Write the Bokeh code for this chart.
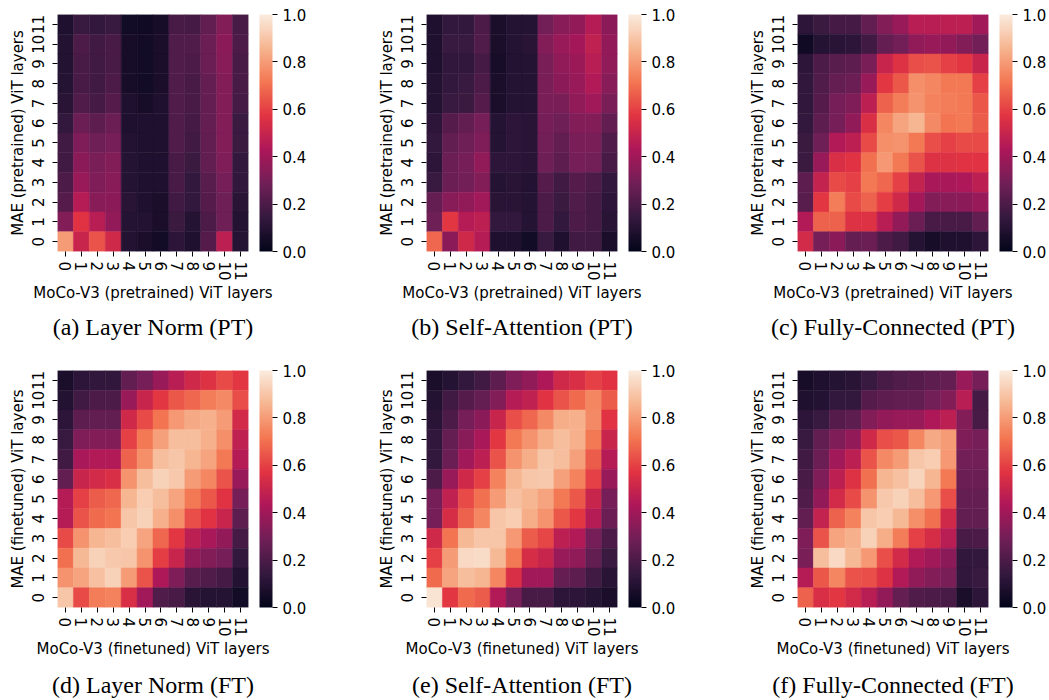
import numpy as np
from bokeh.plotting import figure
from bokeh.models import (ColumnDataSource, ColorBar, LinearColorMapper,
                          FixedTicker, PrintfTickFormatter)
from bokeh.layouts import column, row
from bokeh.transform import transform
from bokeh.embed import file_html
from bokeh.resources import INLINE

layers = [str(i) for i in range(12)]
cbar_ticks = [0.0, 0.2, 0.4, 0.6, 0.8, 1.0]

# Each matrix: rows listed from MAE layer 11 (top) down to layer 0 (bottom),
# columns = MoCo-V3 layers 0..11
ln_pt = [
    [0.08, 0.15, 0.14, 0.15, 0.05, 0.04, 0.06, 0.19, 0.18, 0.25, 0.33, 0.19],
    [0.09, 0.20, 0.17, 0.19, 0.06, 0.05, 0.07, 0.21, 0.21, 0.27, 0.35, 0.20],
    [0.09, 0.19, 0.17, 0.19, 0.06, 0.05, 0.07, 0.21, 0.20, 0.27, 0.34, 0.19],
    [0.10, 0.19, 0.17, 0.20, 0.06, 0.05, 0.07, 0.21, 0.19, 0.26, 0.33, 0.19],
    [0.11, 0.21, 0.18, 0.22, 0.08, 0.06, 0.08, 0.21, 0.19, 0.26, 0.33, 0.18],
    [0.14, 0.27, 0.24, 0.27, 0.08, 0.08, 0.08, 0.21, 0.18, 0.26, 0.33, 0.16],
    [0.17, 0.32, 0.28, 0.30, 0.09, 0.08, 0.08, 0.21, 0.17, 0.25, 0.33, 0.16],
    [0.17, 0.35, 0.31, 0.33, 0.10, 0.08, 0.08, 0.19, 0.16, 0.25, 0.32, 0.14],
    [0.20, 0.38, 0.32, 0.34, 0.10, 0.08, 0.08, 0.19, 0.14, 0.23, 0.30, 0.13],
    [0.22, 0.45, 0.34, 0.35, 0.11, 0.08, 0.07, 0.17, 0.14, 0.22, 0.28, 0.11],
    [0.33, 0.57, 0.46, 0.37, 0.10, 0.09, 0.07, 0.16, 0.10, 0.20, 0.28, 0.09],
    [0.80, 0.50, 0.64, 0.52, 0.09, 0.07, 0.05, 0.12, 0.08, 0.22, 0.47, 0.10],
]
sa_pt = [
    [0.08, 0.14, 0.14, 0.20, 0.07, 0.10, 0.10, 0.29, 0.34, 0.37, 0.45, 0.35],
    [0.08, 0.15, 0.15, 0.21, 0.07, 0.10, 0.11, 0.33, 0.38, 0.41, 0.48, 0.37],
    [0.08, 0.13, 0.13, 0.18, 0.06, 0.09, 0.10, 0.31, 0.36, 0.39, 0.46, 0.36],
    [0.09, 0.14, 0.15, 0.20, 0.07, 0.10, 0.10, 0.31, 0.35, 0.38, 0.44, 0.34],
    [0.09, 0.15, 0.16, 0.22, 0.07, 0.10, 0.10, 0.31, 0.31, 0.36, 0.40, 0.31],
    [0.12, 0.22, 0.25, 0.30, 0.10, 0.12, 0.11, 0.30, 0.28, 0.33, 0.33, 0.25],
    [0.14, 0.25, 0.28, 0.32, 0.10, 0.12, 0.11, 0.29, 0.25, 0.31, 0.31, 0.21],
    [0.12, 0.27, 0.30, 0.36, 0.12, 0.12, 0.11, 0.28, 0.24, 0.30, 0.29, 0.19],
    [0.15, 0.27, 0.29, 0.33, 0.10, 0.11, 0.09, 0.22, 0.17, 0.22, 0.20, 0.14],
    [0.26, 0.34, 0.36, 0.40, 0.11, 0.11, 0.10, 0.20, 0.16, 0.21, 0.18, 0.12],
    [0.28, 0.58, 0.45, 0.47, 0.14, 0.14, 0.10, 0.20, 0.14, 0.20, 0.18, 0.11],
    [0.68, 0.35, 0.52, 0.45, 0.08, 0.08, 0.05, 0.15, 0.08, 0.17, 0.17, 0.07],
]
fc_pt = [
    [0.12, 0.16, 0.18, 0.18, 0.25, 0.33, 0.38, 0.46, 0.46, 0.47, 0.47, 0.40],
    [0.04, 0.10, 0.11, 0.12, 0.17, 0.26, 0.29, 0.36, 0.38, 0.37, 0.33, 0.29],
    [0.12, 0.20, 0.23, 0.24, 0.31, 0.50, 0.56, 0.63, 0.64, 0.60, 0.58, 0.50],
    [0.13, 0.21, 0.26, 0.27, 0.38, 0.58, 0.65, 0.77, 0.75, 0.72, 0.72, 0.60],
    [0.13, 0.22, 0.30, 0.32, 0.47, 0.67, 0.73, 0.78, 0.74, 0.73, 0.72, 0.65],
    [0.14, 0.24, 0.30, 0.36, 0.55, 0.75, 0.82, 0.86, 0.76, 0.71, 0.72, 0.66],
    [0.16, 0.28, 0.44, 0.47, 0.62, 0.77, 0.78, 0.72, 0.63, 0.60, 0.62, 0.62],
    [0.16, 0.38, 0.55, 0.57, 0.70, 0.79, 0.72, 0.64, 0.56, 0.56, 0.57, 0.57],
    [0.24, 0.49, 0.62, 0.60, 0.72, 0.68, 0.60, 0.49, 0.42, 0.42, 0.43, 0.47],
    [0.23, 0.58, 0.73, 0.62, 0.67, 0.59, 0.52, 0.41, 0.33, 0.34, 0.35, 0.38],
    [0.44, 0.67, 0.67, 0.56, 0.56, 0.46, 0.37, 0.27, 0.19, 0.19, 0.19, 0.25],
    [0.53, 0.30, 0.35, 0.26, 0.27, 0.20, 0.17, 0.10, 0.06, 0.08, 0.08, 0.12],
]
ln_ft = [
    [0.07, 0.12, 0.13, 0.13, 0.25, 0.30, 0.38, 0.46, 0.52, 0.56, 0.62, 0.58],
    [0.09, 0.17, 0.20, 0.20, 0.38, 0.50, 0.58, 0.65, 0.68, 0.73, 0.76, 0.63],
    [0.12, 0.24, 0.25, 0.25, 0.52, 0.62, 0.71, 0.79, 0.83, 0.85, 0.80, 0.53],
    [0.15, 0.32, 0.33, 0.33, 0.60, 0.72, 0.81, 0.88, 0.88, 0.85, 0.77, 0.48],
    [0.17, 0.42, 0.44, 0.44, 0.67, 0.77, 0.88, 0.90, 0.86, 0.82, 0.72, 0.45],
    [0.25, 0.50, 0.53, 0.55, 0.78, 0.88, 0.93, 0.91, 0.80, 0.75, 0.64, 0.38],
    [0.45, 0.60, 0.66, 0.68, 0.86, 0.92, 0.88, 0.82, 0.72, 0.65, 0.57, 0.30],
    [0.45, 0.64, 0.69, 0.71, 0.90, 0.93, 0.85, 0.77, 0.63, 0.57, 0.50, 0.24],
    [0.62, 0.78, 0.86, 0.88, 0.92, 0.82, 0.68, 0.58, 0.47, 0.42, 0.37, 0.18],
    [0.70, 0.87, 0.93, 0.91, 0.90, 0.78, 0.59, 0.50, 0.36, 0.33, 0.30, 0.14],
    [0.78, 0.82, 0.89, 0.93, 0.80, 0.64, 0.43, 0.32, 0.23, 0.21, 0.18, 0.09],
    [0.90, 0.62, 0.73, 0.74, 0.55, 0.40, 0.21, 0.19, 0.11, 0.10, 0.10, 0.05],
]
sa_ft = [
    [0.07, 0.10, 0.14, 0.17, 0.24, 0.32, 0.36, 0.43, 0.52, 0.55, 0.60, 0.57],
    [0.09, 0.17, 0.22, 0.26, 0.33, 0.45, 0.48, 0.57, 0.64, 0.69, 0.75, 0.66],
    [0.11, 0.20, 0.30, 0.35, 0.50, 0.63, 0.68, 0.76, 0.84, 0.85, 0.76, 0.57],
    [0.13, 0.26, 0.34, 0.42, 0.58, 0.72, 0.78, 0.84, 0.88, 0.85, 0.72, 0.50],
    [0.14, 0.27, 0.40, 0.47, 0.64, 0.78, 0.84, 0.90, 0.88, 0.81, 0.66, 0.45],
    [0.20, 0.38, 0.52, 0.60, 0.74, 0.86, 0.90, 0.91, 0.81, 0.74, 0.60, 0.38],
    [0.30, 0.48, 0.62, 0.70, 0.80, 0.89, 0.86, 0.82, 0.72, 0.65, 0.50, 0.30],
    [0.30, 0.54, 0.67, 0.75, 0.90, 0.92, 0.84, 0.78, 0.65, 0.58, 0.45, 0.27],
    [0.52, 0.71, 0.87, 0.90, 0.90, 0.79, 0.66, 0.61, 0.47, 0.44, 0.30, 0.20],
    [0.60, 0.80, 0.95, 0.96, 0.87, 0.72, 0.54, 0.50, 0.38, 0.36, 0.25, 0.16],
    [0.69, 0.82, 0.88, 0.86, 0.75, 0.55, 0.40, 0.40, 0.26, 0.24, 0.17, 0.11],
    [0.98, 0.58, 0.69, 0.66, 0.44, 0.30, 0.19, 0.19, 0.12, 0.12, 0.10, 0.07],
]
fc_ft = [
    [0.06, 0.08, 0.10, 0.11, 0.15, 0.19, 0.21, 0.22, 0.24, 0.26, 0.38, 0.30],
    [0.08, 0.09, 0.14, 0.14, 0.22, 0.24, 0.25, 0.25, 0.29, 0.33, 0.46, 0.18],
    [0.12, 0.15, 0.22, 0.24, 0.33, 0.37, 0.38, 0.38, 0.43, 0.47, 0.33, 0.19],
    [0.15, 0.25, 0.32, 0.37, 0.52, 0.63, 0.65, 0.75, 0.83, 0.80, 0.32, 0.30],
    [0.17, 0.27, 0.40, 0.47, 0.64, 0.76, 0.80, 0.90, 0.92, 0.79, 0.29, 0.29],
    [0.19, 0.32, 0.47, 0.56, 0.70, 0.86, 0.89, 0.94, 0.86, 0.72, 0.27, 0.27],
    [0.21, 0.37, 0.53, 0.62, 0.78, 0.91, 0.93, 0.88, 0.79, 0.63, 0.26, 0.26],
    [0.25, 0.49, 0.67, 0.74, 0.90, 0.92, 0.87, 0.77, 0.70, 0.52, 0.25, 0.25],
    [0.32, 0.64, 0.82, 0.85, 0.93, 0.84, 0.73, 0.60, 0.54, 0.46, 0.19, 0.20],
    [0.31, 0.88, 0.95, 0.87, 0.79, 0.63, 0.53, 0.44, 0.40, 0.35, 0.13, 0.14],
    [0.45, 0.65, 0.75, 0.64, 0.63, 0.56, 0.44, 0.36, 0.33, 0.31, 0.13, 0.15],
    [0.67, 0.55, 0.58, 0.53, 0.46, 0.37, 0.26, 0.21, 0.20, 0.19, 0.07, 0.12],
]

captions = ["(a) Layer Norm (PT)", "(b) Self-Attention (PT)", "(c) Fully-Connected (PT)",
            "(d) Layer Norm (FT)", "(e) Self-Attention (FT)", "(f) Fully-Connected (FT)"]
x_labels = ["MoCo-V3 (pretrained) ViT layers"] * 3 + ["MoCo-V3 (finetuned) ViT layers"] * 3
y_labels = ["MAE (pretrained) ViT layers"] * 3 + ["MAE (finetuned) ViT layers"] * 3
matrices = [ln_pt, sa_pt, fc_pt, ln_ft, sa_ft, fc_ft]

# "rocket"-like colormap
anchors = [(0.0, "#03051A"), (1/7, "#35193E"), (2/7, "#701F57"), (3/7, "#AD1759"),
           (4/7, "#E13342"), (5/7, "#F37651"), (6/7, "#F6B48F"), (1.0, "#FAEBDD")]
def _rgb(h):
    return np.array([int(h[i:i + 2], 16) for i in (1, 3, 5)], dtype=float)
apos = np.array([a[0] for a in anchors])
acol = np.array([_rgb(a[1]) for a in anchors])
palette = []
for t in np.linspace(0, 1, 256):
    c = [np.interp(t, apos, acol[:, k]) for k in range(3)]
    palette.append("#%02x%02x%02x" % tuple(int(round(v)) for v in c))

FONT = "DejaVu Sans"
FS = "15px"


def make_panel(idx, top, bottom, right, cap_standoff):
    mat = matrices[idx]
    xs, ys, vs = [], [], []
    for r_i, r in enumerate(mat):
        layer = 11 - r_i
        for c_i, v in enumerate(r):
            xs.append(layers[c_i]); ys.append(layers[layer]); vs.append(v)
    src = ColumnDataSource(dict(x=xs, y=ys, v=vs))
    mapper = LinearColorMapper(palette=palette, low=0.0, high=1.0)
    p = figure(x_range=layers, y_range=layers, frame_width=191, frame_height=237,
               output_backend="svg", toolbar_location=None,
               min_border_left=57, min_border_right=right,
               min_border_top=top, min_border_bottom=bottom,
               title=captions[idx], title_location="below")
    p.rect(x="x", y="y", width=1, height=1, source=src,
           fill_color=transform("v", mapper), line_color=transform("v", mapper),
           line_width=0.5)
    p.outline_line_color = None
    p.grid.grid_line_color = None
    p.background_fill_color = None
    p.border_fill_color = "white"
    for ax in (p.xaxis, p.yaxis):
        ax.axis_line_color = None
        ax.major_tick_out = 5
        ax.major_tick_in = 0
        ax.major_tick_line_color = "black"
        ax.major_label_text_font = FONT
        ax.major_label_text_font_size = FS
        ax.major_label_text_color = "black"
        ax.axis_label_text_font = FONT
        ax.axis_label_text_font_size = FS
        ax.axis_label_text_font_style = "normal"
        ax.axis_label_text_color = "black"
        ax.major_label_orientation = "vertical"
    p.xaxis.axis_label = x_labels[idx]
    p.yaxis.axis_label = y_labels[idx]
    p.xaxis.major_label_standoff = 5
    p.xaxis.axis_label_standoff = 0
    p.yaxis.major_label_standoff = 9
    p.yaxis.axis_label_standoff = 2

    p.title.text_font = "Liberation Serif"
    p.title.text_font_size = "24px"
    p.title.text_font_style = "normal"
    p.title.text_color = "black"
    p.title.align = "center"
    p.title.standoff = cap_standoff

    cb = ColorBar(color_mapper=mapper, location=(202, 0), width=13, height=237,
                  margin=0, padding=0,
                  ticker=FixedTicker(ticks=cbar_ticks),
                  formatter=PrintfTickFormatter(format="%.1f"),
                  major_label_text_font=FONT, major_label_text_font_size=FS,
                  major_label_text_color="black",
                  major_tick_out=5, major_tick_in=0, major_tick_line_color="black",
                  label_standoff=5, bar_line_color=None, border_line_color=None,
                  background_fill_color=None)
    p.add_layout(cb)
    return p


rights = [121, 123, 61]
row1 = row(*[make_panel(i, 14, 94, rights[i], 14) for i in range(3)])
row2 = row(*[make_panel(i + 3, 24, 94, rights[i], 18) for i in range(3)])
layout = column(row1, row2)

open("out.html", "w").write(file_html(layout, INLINE))
